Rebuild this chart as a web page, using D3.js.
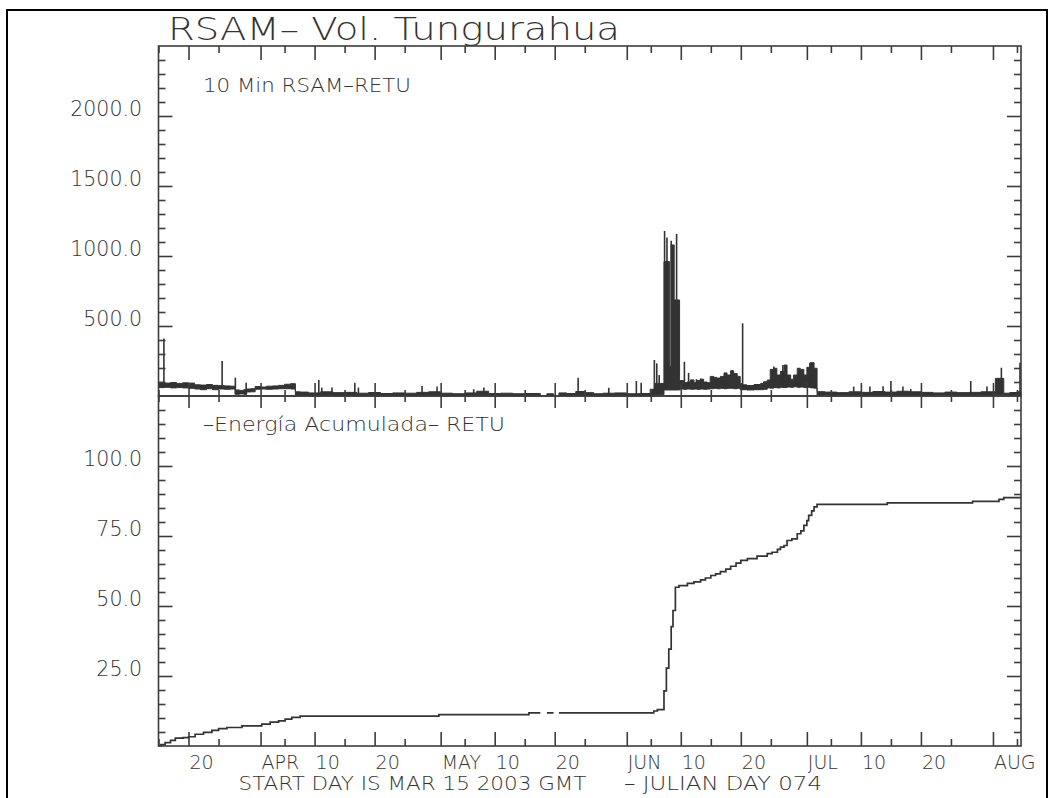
<!DOCTYPE html>
<html><head><meta charset="utf-8">
<script src="https://cdn.jsdelivr.net/npm/d3@7"></script>
<style>
body{margin:0;background:#fff;}
svg text{font-family:"DejaVu Sans",sans-serif;font-weight:200;fill:#333;}
</style></head><body>
<svg id="c" width="1054" height="798"></svg>
<script>
// ---------- DATA (days since 2003-03-15 00:00 GMT) ----------
const startMs = Date.UTC(2003, 2, 15);
const endDay = 143.67;

// 10-min RSAM envelope (segment start day, low, high)
const bandDay = [0,1,2,3,4,5,6,7,8,9,10,11,12,12.8,13.5,14.2,14.7,15.4,16.1,17,18,19,20,21,22,22.8,23.6,25,27,29,31,33,35,37,39,41,43,45,47,49,51,53,55,57,59,61,63.6,64.7,65.8,66.7,68,69.5,71,72.5,74,76,78,80,81.9,82.6,84.2,85.1,85.4,85.9,
  86.8,87.5,88.0,88.6,89.2,89.7,90.3,90.8,91.4,91.9,92.5,93.0,93.6,94.2,94.7,95.3,95.8,96.4,96.9,98.0,99.2,100.3,100.8,101.4,101.9,102.5,103.0,103.6,104.2,104.7,105.3,105.8,106.4,106.9,107.5,108.0,108.6,109.2,109.7,
  111,113,115,117,119,121,123,125,127,129,131,133,135,137,139.4,140.8,141.8,143];
const bandLo  = [60,62,58,60,58,55,50,45,52,45,50,48,50,12,15,12,29,30,48,50,48,50,52,52,50,5,3,2,3,2,3,2,3,2,2,3,2,2,2,2,3,3,2,2,2,2,null,2,null,2,3,3,3,2,2,2,2,3,5,10,43,43,43,43,
  50,48,50,48,50,48,50,48,50,52,55,52,55,52,55,55,52,55,45,43,45,45,48,58,56,60,58,62,60,64,62,66,62,64,60,62,58,56,7,
  6,7,6,7,6,7,6,7,6,6,7,6,6,7,10,6,5,5];
const bandHi  = [98,92,96,90,94,92,80,78,82,76,74,72,70,43,40,45,50,52,68,64,70,72,76,84,88,30,28,22,30,24,26,20,25,18,22,20,26,30,20,16,22,34,18,20,16,18,null,16,null,22,18,32,24,16,20,22,16,18,48,90,960,210,1079,686,
  110,95,100,115,95,110,120,100,95,140,133,128,140,165,150,181,160,140,80,75,82,90,102,114,190,198,150,175,221,150,120,150,198,190,150,205,238,198,31,
  28,24,30,26,32,28,34,30,26,22,28,24,26,30,126,20,25,30];

// isolated 10-min peaks (day, RSAM)
const spikeDay = [0.9,10.6,12.8,14.6,26.7,27.2,28.9,32.7,33.3,43.9,46.4,52.5,54.2,69.9,75,79.6,80.4,82.6,83.0,83.4,84.3,84.7,85.4,86.3,87.6,88.3,89.6,90.3,97.3,102.5,104,108.5,115.8,118.5,120.7,122,124,125.3,135.3,138,140.4,143.5];
const spikeVal = [410,250,131,95,114,60,60,95,60,71,67,48,60,131,59,107,95,257,233,150,1179,1133,1109,1157,245,165,120,125,519,210,221,238,67,67,70,107,67,50,107,67,202,238];

// accumulated energy (day, value), null = data gap
const energyDay = [0,0.4,1.1,2.0,2.8,4.1,5.0,6.1,7.5,8.9,10.0,11.4,13.9,17.2,18.6,20.0,21.1,22.2,23.6,46.7,61.7,63.6,63.6,64.7,65.8,65.8,66.7,82.5,83.1,84.2,84.6,85.0,85.4,85.7,86.1,86.7,88.1,89.2,90.3,91.1,92.0,92.8,93.6,94.5,95.3,96.2,97.0,98.1,99.7,101.4,102.2,103.1,103.6,104.2,104.7,105.5,106.4,107.0,107.5,108.0,108.3,108.8,109.2,109.7,121.4,135.6,140.0,140.8];
const energyVal = [0,0.5,1.2,2.0,2.8,3.0,3.3,4.2,4.9,5.6,6.2,6.6,7.2,7.8,8.5,9.0,9.6,10.2,10.7,11.2,11.8,11.8,null,11.8,11.8,null,11.8,12.5,13.0,19.7,27.8,34.6,42.6,48.4,56.7,57.3,58.1,58.6,59.3,60.0,60.9,61.5,62.3,63.2,64.2,65.3,66.3,66.9,67.8,68.7,69.2,70.2,71.0,71.6,73.4,74.0,75.8,76.8,78.8,80.5,82.4,84.0,85.4,86.3,86.8,87.4,88.1,88.7];

const rsamTicks = [500, 1000, 1500, 2000];
const energyTicks = [25, 50, 75, 100];
const monthLabels = ["JAN","FEB","MAR","APR","MAY","JUN","JUL","AUG","SEP","OCT","NOV","DEC"];

// ---------- LAYOUT ----------
const L = 158.5, R = 1021, T = 46, M = 396, B = 746;
const ink = "#333", axisInk = "#3c3c3c";
const svg = d3.select("#c");
const toDate = d => new Date(startMs + d * 864e5);

const x = d3.scaleUtc().domain([toDate(0), toDate(endDay)]).range([L, R]);
const yTop = d3.scaleLinear().domain([0, 2500]).range([M, T]);
const yBot = d3.scaleLinear().domain([0, 125]).range([B, M]);

// outer frame
svg.append("rect").attr("x", 7).attr("y", 10).attr("width", 1040).attr("height", 820)
  .attr("fill", "none").attr("stroke", "#000").attr("stroke-width", 2);

// title
svg.append("text").attr("x", 168).attr("y", 40).attr("font-size", 32)
  .attr("textLength", 452).attr("lengthAdjust", "spacingAndGlyphs")
  .text("RSAM– Vol. Tungurahua");

// ---------- TOP PANEL DATA ----------
const bandPts = [];
bandDay.forEach((d, i) => {
  const e = i < bandDay.length - 1 ? bandDay[i + 1] : endDay;
  bandPts.push({t: d, lo: bandLo[i], hi: bandHi[i]});
  bandPts.push({t: e, lo: bandLo[i], hi: bandHi[i]});
});
const area = d3.area()
  .defined(p => p.lo != null)
  .x(p => x(toDate(p.t)))
  .y0(p => yTop(p.lo))
  .y1(p => yTop(p.hi));
svg.append("path").datum(bandPts).attr("d", area)
  .attr("fill", ink).attr("stroke", ink).attr("stroke-width", 1).attr("stroke-linejoin", "miter");

svg.append("g").selectAll("line").data(spikeDay).join("line")
  .attr("x1", d => x(toDate(d))).attr("x2", d => x(toDate(d)))
  .attr("y1", d => {
    const i = Math.max(0, d3.bisectRight(bandDay, d) - 1);
    return yTop(bandLo[i] == null ? 0 : bandLo[i]);
  })
  .attr("y2", (d, i) => yTop(spikeVal[i]))
  .attr("stroke", ink).attr("stroke-width", 1.6);

// ---------- BOTTOM PANEL DATA ----------
const ePts = energyDay.map((d, i) => ({t: d, v: energyVal[i]}));
const line = d3.line().defined(p => p.v != null)
  .x(p => x(toDate(p.t))).y(p => yBot(p.v)).curve(d3.curveStepAfter);
const eFull = ePts.concat([{t: endDay, v: energyVal[energyVal.length - 1]}]);
svg.append("path").datum(eFull).attr("d", line)
  .attr("fill", "none").attr("stroke", ink).attr("stroke-width", 1.7);

// ---------- AXES ----------
const days = d3.utcDay.range(toDate(0), toDate(endDay));
const majorDates = days.filter(d => [1, 10, 20].includes(d.getUTCDate()));
const minorDates = days.filter(d => [5, 15, 25].includes(d.getUTCDate()));

function styleAxis(g) {
  g.select(".domain").remove();
  g.selectAll("line").attr("stroke", axisInk).attr("stroke-width", 1.6);
  g.selectAll("text").remove();
}
function xAxes(gen, y, major, minor) {
  svg.append("g").attr("transform", `translate(0,${y})`)
    .call(gen(x).tickValues(majorDates).tickSize(major).tickFormat("")).call(styleAxis);
  svg.append("g").attr("transform", `translate(0,${y})`)
    .call(gen(x).tickValues(minorDates).tickSize(minor).tickFormat("")).call(styleAxis);
}
xAxes(d3.axisBottom, T, 14, 7);
xAxes(d3.axisTop, M, 13, 6);
xAxes(d3.axisBottom, M, 12, 6);
xAxes(d3.axisTop, B, 14, 7);

function yAxes(scale, step, majorEvery, maxV) {
  const vals = d3.range(step, maxV, step);
  const maj = vals.filter(v => Math.abs(v / majorEvery - Math.round(v / majorEvery)) < 1e-9);
  const min = vals.filter(v => !maj.includes(v));
  [[d3.axisRight, L], [d3.axisLeft, R]].forEach(([gen, xx]) => {
    svg.append("g").attr("transform", `translate(${xx},0)`)
      .call(gen(scale).tickValues(maj).tickSize(14).tickFormat("")).call(styleAxis);
    svg.append("g").attr("transform", `translate(${xx},0)`)
      .call(gen(scale).tickValues(min).tickSize(7).tickFormat("")).call(styleAxis);
  });
}
yAxes(yTop, 100, 500, 2500);
yAxes(yBot, 5, 25, 125);

// panel frames
[[T, M], [M, B]].forEach(([a, b]) => {
  svg.append("rect").attr("x", L).attr("y", a).attr("width", R - L).attr("height", b - a)
    .attr("fill", "none").attr("stroke", axisInk).attr("stroke-width", 1.6);
});

// y labels
const f1 = d3.format(".1f");
svg.append("g").selectAll("text").data(rsamTicks).join("text")
  .attr("x", 142).attr("y", d => yTop(d)).attr("text-anchor", "end")
  .attr("font-size", 20.5).text(d => f1(d));
svg.append("g").selectAll("text").data(energyTicks).join("text")
  .attr("x", 142).attr("y", d => yBot(d)).attr("text-anchor", "end")
  .attr("font-size", 20.5).text(d => f1(d));

// x labels
svg.append("g").selectAll("text").data(majorDates).join("text")
  .attr("x", d => x(d) + 1).attr("y", 768.5).attr("font-size", 19)
  .text(d => d.getUTCDate() === 1 ? monthLabels[d.getUTCMonth()] : String(d.getUTCDate()));

// panel captions
svg.append("text").attr("x", 203).attr("y", 91.5).attr("font-size", 20)
  .attr("textLength", 208).attr("lengthAdjust", "spacingAndGlyphs").text("10 Min RSAM–RETU");
svg.append("text").attr("x", 203).attr("y", 431).attr("font-size", 20)
  .attr("textLength", 302).attr("lengthAdjust", "spacingAndGlyphs").text("–Energía Acumulada– RETU");

// footer
svg.append("text").attr("x", 238.5).attr("y", 790).attr("font-size", 19)
  .attr("textLength", 348).attr("lengthAdjust", "spacingAndGlyphs").text("START DAY IS MAR 15 2003 GMT");
svg.append("text").attr("x", 624).attr("y", 790).attr("font-size", 19)
  .attr("textLength", 198).attr("lengthAdjust", "spacingAndGlyphs").text("– JULIAN DAY 074");
</script>
</body></html>
